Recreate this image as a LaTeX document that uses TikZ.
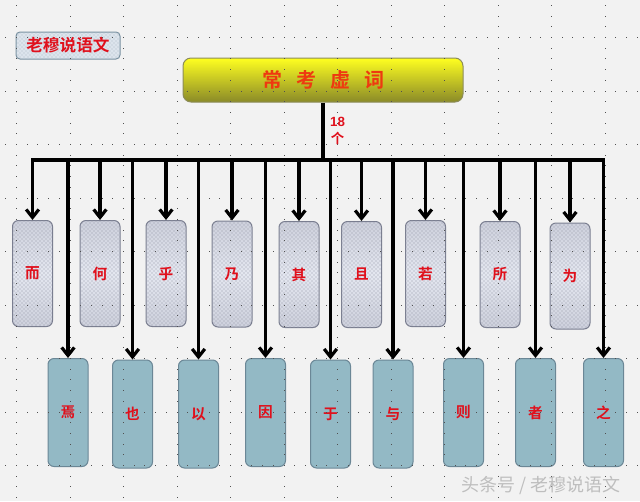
\documentclass[tikz,border=0pt]{standalone}
\usepackage{fontspec}
\setmainfont{Liberation Sans}
\newfontfamily\cjk{Noto Sans CJK SC}[BoldFont={Noto Sans CJK SC Bold}]
\usetikzlibrary{arrows.meta,patterns}
\definecolor{bgc}{HTML}{F2F2F2}
\definecolor{dotc}{HTML}{505050}
\definecolor{redt}{HTML}{E0101C}
\definecolor{oranget}{HTML}{EE3A10}
\definecolor{topedge}{HTML}{7A7E90}
\definecolor{topfillA}{HTML}{CDD0DC}
\definecolor{topfillB}{HTML}{E4E7F0}
\definecolor{botfill}{HTML}{93B9C5}
\definecolor{botedge}{HTML}{6B8796}
\definecolor{yelA}{HTML}{FFFF20}
\definecolor{yelB}{HTML}{E4E40A}
\definecolor{yelC}{HTML}{8A8A28}
\definecolor{yeledge}{HTML}{8C8C5A}
\definecolor{tagfill}{HTML}{DCE4EC}
\definecolor{tagedge}{HTML}{7890A0}
\definecolor{wmark}{HTML}{BEBEBE}
\tikzset{
  topbox/.style={draw=topedge, line width=0.75pt, rounded corners=4.5pt,
    top color=topfillA, bottom color=topfillA, middle color=topfillB,
    postaction={pattern=crosshatch dots, pattern color=topedge!80},
    minimum width=30pt, minimum height=79.5pt, inner sep=0pt,
    text=redt, font=\cjk\bfseries\fontsize{11}{13}\selectfont},
  botbox/.style={draw=botedge, line width=0.75pt, rounded corners=4.5pt,
    fill=botfill, minimum width=30pt, minimum height=81pt, inner sep=0pt,
    text=redt, font=\cjk\bfseries\fontsize{11}{13}\selectfont},
  mainbox/.style={draw=yeledge, line width=0.75pt, rounded corners=6pt,
    top color=yelA, middle color=yelB, bottom color=yelC,
    minimum width=210pt, minimum height=33pt, inner sep=0pt,
    text=oranget, font=\cjk\bfseries\fontsize{15}{18}\selectfont},
  tagbox/.style={draw=tagedge, line width=0.75pt, rounded corners=3pt,
    fill=tagfill, postaction={pattern=crosshatch dots, pattern color=tagedge!60},
    minimum width=78pt, minimum height=20.25pt, inner sep=0pt,
    text=redt, font=\cjk\bfseries\fontsize{12.5}{14}\selectfont},
  busline/.style={line width=2.4pt, black, line cap=rect},
  arr/.style={line width=2.4pt, black, -{Straight Barb[length=6pt,width=9.5pt]}},
}
\begin{document}
\begin{tikzpicture}[x=0.75pt,y=-0.75pt]
\fill[bgc] (0,0) rectangle (640,501);
\useasboundingbox (0,0) rectangle (640,501);

% boxes
\node[tagbox] (tag) at (68,45.5) {老穆说语文};
\node[mainbox] (main) at (323,80) {常\hspace{10.5pt}考\hspace{10.5pt}虚\hspace{10.5pt}词};

\node[topbox] (t1) at (32.5,273.5) {而};
\node[topbox] (t2) at (100,273.5) {何};
\node[topbox] (t3) at (166,273.5) {乎};
\node[topbox] (t4) at (232,274) {乃};
\node[topbox] (t5) at (299,274.5) {其};
\node[topbox] (t6) at (361.5,274.5) {且};
\node[topbox] (t7) at (425.5,273.5) {若};
\node[topbox] (t8) at (500,274.5) {所};
\node[topbox] (t9) at (570,276) {为};

\node[botbox] (b1) at (68,412.5) {焉};
\node[botbox] (b2) at (132.5,414) {也};
\node[botbox] (b3) at (198.5,414) {以};
\node[botbox] (b4) at (265.5,412.5) {因};
\node[botbox] (b5) at (330.5,414) {于};
\node[botbox] (b6) at (393,414) {与};
\node[botbox] (b7) at (463.5,412.5) {则};
\node[botbox] (b8) at (535.5,412.5) {者};
\node[botbox] (b9) at (603.5,412.5) {之};

% grid of dots
\foreach \r in {0,...,8}{
  \foreach \k in {0,...,59}{
    \fill[dotc] ({5.3+10.7*\k},{37+53.5*\r}) rectangle ++(1,1);
  }
}
\foreach \c in {0,...,11}{
  \foreach \k in {0,...,46}{
    \fill[dotc] ({16+53.5*\c},{4.9+10.7*\k}) rectangle ++(1,1);
  }
}

% connectors
\coordinate (bus) at (323,160);
\draw[busline] (t1.north |- bus) -- (b9.north |- bus);
\draw[line width=2.4pt] (main.south) -- (main.south |- bus);
\foreach \n in {t1,t2,t3,t4,t5,t6,t7,t8,t9,b1,b2,b3,b4,b5,b6,b7,b8,b9}{
  \draw[arr] (\n.north |- bus) -- (\n.north);
}

\node[text=redt, align=center, font=\bfseries\fontsize{10}{12.75}\selectfont] (cnt) at (337.5,131) {18\\{\cjk 个}};

\node[text=wmark, font=\cjk\fontsize{13.5}{16}\selectfont] (wm) at (541,485) {头条号 / 老穆说语文};
\end{tikzpicture}
\end{document}
